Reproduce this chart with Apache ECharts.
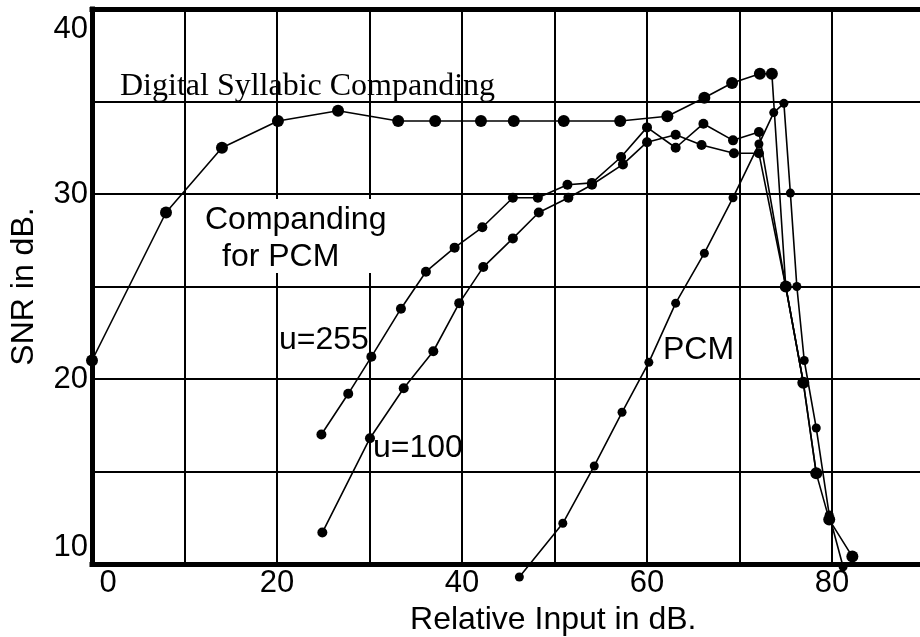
<!DOCTYPE html>
<html>
<head>
<meta charset="utf-8">
<script src="https://cdn.jsdelivr.net/npm/echarts@6/dist/echarts.min.js"></script>
<style>
  html, body { margin: 0; padding: 0; background: #fff; }
  #chart { width: 920px; height: 637px; }
</style>
</head>
<body>
<div id="chart"></div>
<script>
// Digital syllabic companding
const syllabicInput = [0, 8.0, 14.05, 20.1, 26.6, 33.1, 37.1, 42.05, 45.6, 51.0, 57.1, 62.2, 66.2, 69.2, 72.2, 73.5, 75.0, 76.9, 78.3, 79.7, 82.2];
const syllabicSnr   = [21.0, 29.0, 32.5, 33.95, 34.5, 33.95, 33.95, 33.95, 33.95, 33.95, 33.95, 34.2, 35.2, 36.0, 36.5, 36.5, 25.0, 19.8, 14.9, 12.4, 10.4];

// mu-law companding, u = 255
const mu255Input = [24.8, 27.7, 30.2, 33.4, 36.1, 39.2, 42.2, 45.5, 48.2, 51.4, 54.05, 57.2, 60.0, 63.1, 66.1, 69.3, 72.1, 75.0, 76.9];
const mu255Snr   = [17.0, 19.2, 21.2, 23.8, 25.8, 27.1, 28.2, 29.8, 29.8, 30.5, 30.6, 32.0, 33.6, 32.5, 33.8, 32.9, 33.35, 25.0, 19.8];

// mu-law companding, u = 100
const mu100Input = [24.9, 30.05, 33.7, 36.9, 39.7, 42.3, 45.5, 48.3, 51.5, 54.05, 57.4, 60.0, 63.1, 65.9, 69.4, 72.1, 75.0, 76.9, 78.3];
const mu100Snr   = [11.7, 16.8, 19.5, 21.5, 24.1, 26.05, 27.6, 29.0, 29.8, 30.5, 31.6, 32.8, 33.2, 32.65, 32.2, 32.2, 25.0, 19.8, 14.9];

// Uniform PCM
const pcmInput = [46.2, 50.9, 54.3, 57.3, 60.2, 63.1, 66.2, 69.3, 72.1, 73.7, 74.8, 75.5, 76.2, 77.0, 78.3, 79.7, 81.2];
const pcmSnr   = [9.3, 12.2, 15.3, 18.2, 20.9, 24.1, 26.8, 29.8, 32.7, 34.4, 34.9, 30.05, 25.0, 21.0, 17.35, 12.65, 9.85];

// Tick labels shown on the axes
const xTickLabels = [0, 20, 40, 60, 80];
const yTickLabels = [10, 20, 30, 40];

const SANS = '"Liberation Sans", Arial, sans-serif';
const SERIF = '"Liberation Serif", "Times New Roman", serif';

function pairs(xs, ys) { return xs.map((x, i) => [x, ys[i]]); }

function curve(name, xs, ys, size) {
  return {
    name: name,
    type: 'line',
    data: pairs(xs, ys),
    clip: false,
    symbol: 'circle',
    symbolSize: size,
    showAllSymbol: true,
    lineStyle: { color: '#000', width: 1.6 },
    itemStyle: { color: '#000' },
    z: 3
  };
}

const frameLine = { show: true, lineStyle: { color: '#000', width: 5, cap: 'square' } };

function label(text, x, y, font) {
  return {
    type: 'text', z: 5, x: x, y: y,
    style: { text: text, font: font, fill: '#000',
             align: 'left', verticalAlign: 'middle', textAlign: 'left', textVerticalAlign: 'middle' }
  };
}

const chart = echarts.init(document.getElementById('chart'), null, { renderer: 'canvas' });

chart.setOption({
  animation: false,
  backgroundColor: '#fff',
  grid: { left: 92, width: 832.5, top: 9, height: 555, show: false, containLabel: false, outerBoundsMode: 'none' },
  xAxis: [{
    type: 'value', min: 0, max: 90, interval: 10, position: 'bottom',
    axisLine: frameLine, axisTick: { show: false },
    splitLine: { show: true, lineStyle: { color: '#000', width: 2 } },
    axisLabel: {
      margin: 4, color: '#000', fontFamily: SANS, fontSize: 31,
      formatter: v => {
        if (!xTickLabels.includes(v)) return '';
        return v === 0 ? '{first|0}' : String(v);
      },
      rich: { first: { padding: [0, 0, 0, 32], fontFamily: SANS, fontSize: 31, color: '#000' } }
    },
    name: 'Relative Input in dB.',
    nameLocation: 'middle',
    nameGap: 38,
    nameTextStyle: { color: '#000', fontFamily: SANS, fontSize: 32, padding: [0, 0, 0, 90] }
  }, {
    type: 'value', min: 0, max: 90, interval: 10, position: 'top',
    axisLine: frameLine, axisTick: { show: false },
    axisLabel: { show: false }, splitLine: { show: false }
  }],
  yAxis: {
    type: 'value', min: 10, max: 40, interval: 5,
    axisLine: frameLine, axisTick: { show: false },
    splitLine: { show: true, lineStyle: { color: '#000', width: 2 } },
    axisLabel: {
      margin: 4, color: '#000', fontFamily: SANS, fontSize: 31,
      formatter: v => {
        if (!yTickLabels.includes(v)) return '';
        if (v === 40) return '{top|40}';
        if (v === 10) return '{bot|10}';
        return String(v);
      },
      rich: {
        top: { padding: [40, 0, 0, 0], fontFamily: SANS, fontSize: 31, color: '#000' },
        bot: { padding: [0, 0, 34, 0], fontFamily: SANS, fontSize: 31, color: '#000' }
      }
    },
    name: 'SNR in dB.',
    nameLocation: 'middle',
    nameGap: 52,
    nameTextStyle: { color: '#000', fontFamily: SANS, fontSize: 32 }
  },
  graphic: [
    // white panel behind the "Companding for PCM" caption
    { type: 'rect', z: 1, shape: { x: 196, y: 199, width: 194, height: 74 }, style: { fill: '#fff' } },
    label('Digital Syllabic Companding', 120, 87, '32px ' + SERIF),
    label('Companding', 205, 220, '32px ' + SANS),
    label('for PCM', 222, 257, '32px ' + SANS),
    label('u=255', 279, 340, '32px ' + SANS),
    label('u=100', 373, 448, '32px ' + SANS),
    label('PCM', 663, 350, '32px ' + SANS)
  ],
  series: [
    curve('Digital Syllabic Companding', syllabicInput, syllabicSnr, 12),
    curve('u=255', mu255Input, mu255Snr, 10),
    curve('u=100', mu100Input, mu100Snr, 10),
    curve('PCM', pcmInput, pcmSnr, 9)
  ]
});
</script>
</body>
</html>
